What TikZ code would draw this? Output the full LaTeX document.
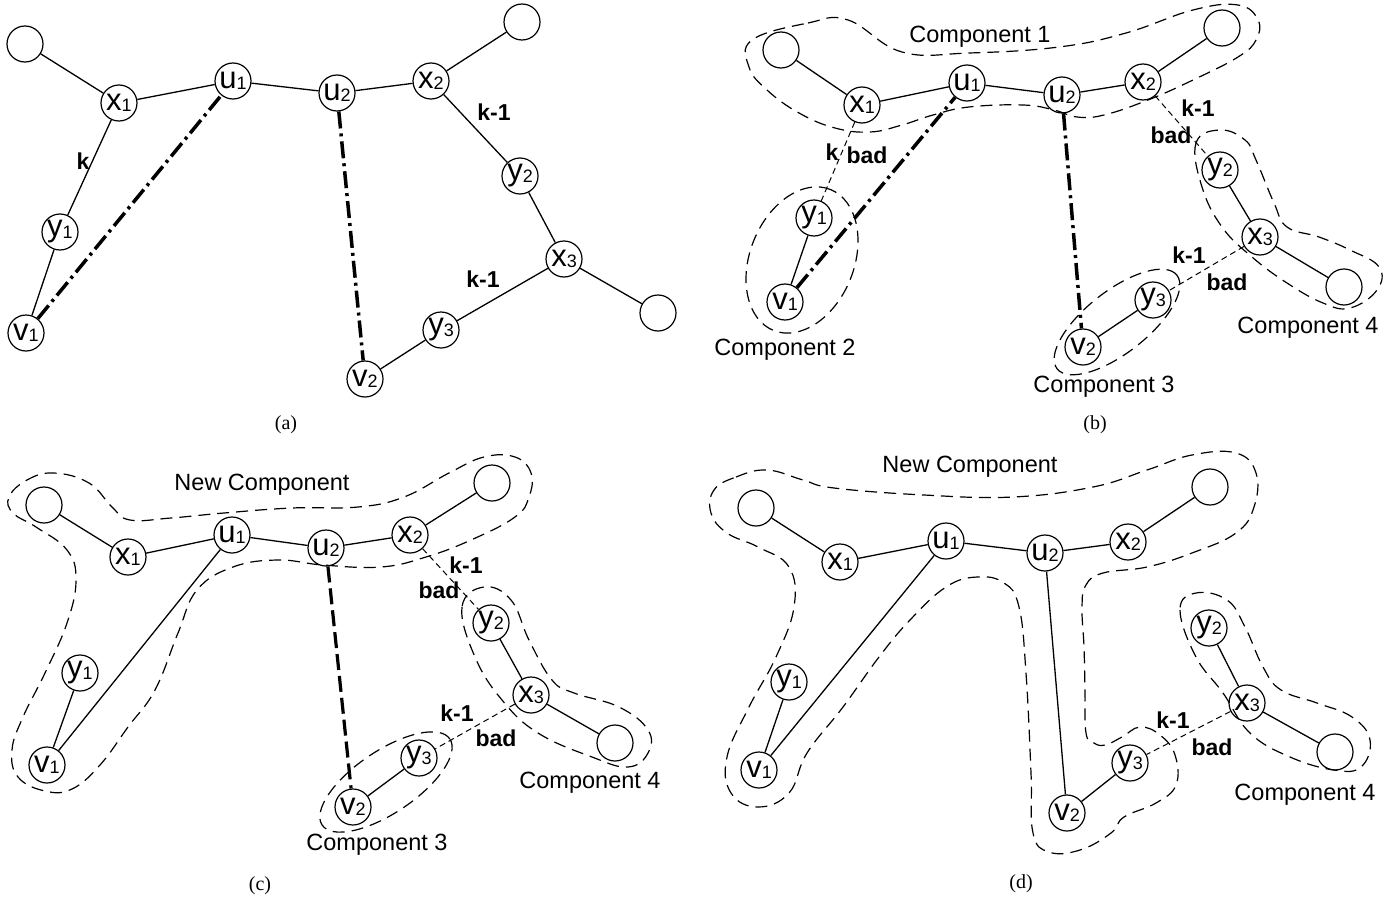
\documentclass[tikz,border=0pt]{standalone}
\usepackage{fontspec}
\setmainfont{Liberation Sans}
\newfontfamily\capfont{Liberation Serif}
\newcommand{\vlab}[2]{{\fontsize{31}{31}\selectfont #1}\raisebox{-1.5pt}{\fontsize{18}{18}\selectfont #2}}
\tikzset{
  vtx/.style={circle, draw, line width=1.2pt, minimum size=36pt, inner sep=0pt},
  edgeline/.style={line width=1.3pt},
  badline/.style={line width=1pt, dash pattern=on 6pt off 4pt},
  dashdotline/.style={line width=3.5pt, dash pattern=on 17pt off 5pt on 3pt off 5pt},
  thickdash/.style={line width=3.2pt, dash pattern=on 16pt off 6pt},
  blob/.style={line width=1.2pt, dash pattern=on 12pt off 7pt},
  lbl/.style={font=\fontsize{23}{23}\selectfont\bfseries, inner sep=0pt},
  comp/.style={font=\fontsize{23.5}{23.5}\selectfont, inner sep=0pt},
  captext/.style={font=\capfont\fontsize{20}{20}\selectfont, inner sep=0pt}
}
\begin{document}
\begin{tikzpicture}[x=1pt, y=-1pt]
\useasboundingbox (0,0) rectangle (1397,899);

% ---------------- panel (a) ----------------
\node[vtx] (a-e1) at (25,44) {};
\node[vtx] (a-x1) at (119,103) {\vlab{x}{1}};
\node[vtx] (a-u1) at (233,81) {\vlab{u}{1}};
\node[vtx] (a-u2) at (337,93) {\vlab{u}{2}};
\node[vtx] (a-x2) at (431,81) {\vlab{x}{2}};
\node[vtx] (a-e2) at (522,22) {};
\node[vtx] (a-y2) at (520,176) {\vlab{y}{2}};
\node[vtx] (a-x3) at (564,259) {\vlab{x}{3}};
\node[vtx] (a-e3) at (658,313) {};
\node[vtx] (a-y3) at (441,330) {\vlab{y}{3}};
\node[vtx] (a-v2) at (365,379) {\vlab{v}{2}};
\node[vtx] (a-y1) at (60,232) {\vlab{y}{1}};
\node[vtx] (a-v1) at (26,333) {\vlab{v}{1}};
\draw[edgeline] (a-e1) -- (a-x1);
\draw[edgeline] (a-x1) -- (a-u1);
\draw[edgeline] (a-u1) -- (a-u2);
\draw[edgeline] (a-u2) -- (a-x2);
\draw[edgeline] (a-x2) -- (a-e2);
\draw[edgeline] (a-x2) -- (a-y2);
\draw[edgeline] (a-y2) -- (a-x3);
\draw[edgeline] (a-x3) -- (a-e3);
\draw[edgeline] (a-x3) -- (a-y3);
\draw[edgeline] (a-y3) -- (a-v2);
\draw[edgeline] (a-x1) -- (a-y1);
\draw[edgeline] (a-y1) -- (a-v1);
\draw[dashdotline] (a-v1) -- (a-u1);
\draw[dashdotline] (a-u2) -- (a-v2);
\node[lbl] (a-lk) at (83,161) {k};
\node[lbl] (a-lk1) at (494,112) {k-1};
\node[lbl] (a-lk2) at (483,279) {k-1};
\node[captext] (a-cap) at (286,425) {(a)};

% ---------------- panel (b) ----------------
\draw[blob] plot[smooth cycle, tension=0.7] coordinates {
 (752,40) (808,23) (848,20) (902,52) (969,53) (1059,47) (1126,33) (1193,10)
 (1238,5) (1258,20) (1256,40) (1238,57) (1193,80) (1148,100) (1104,115)
 (1077,117) (1054,110) (1023,105) (969,107) (933,115) (902,125) (870,132)
 (835,128) (799,113) (767,90) (749,67)};
\draw[blob, rotate around={68:(802,260)}] (802,260) ellipse [x radius=76pt, y radius=52pt];
\draw[blob, rotate around={38:(1117,322)}] (1117,322) ellipse [x radius=76pt, y radius=31pt];
\draw[blob] plot[smooth cycle, tension=0.7] coordinates {
 (1220,130) (1196,143) (1202,187) (1222,227) (1252,257) (1287,283) (1323,303)
 (1350,308) (1377,290) (1379,267) (1350,250) (1319,237) (1287,227) (1274,203)
 (1256,160) (1245,140)};
\node[vtx] (b-e1) at (781,50) {};
\node[vtx] (b-x1) at (862,105) {\vlab{x}{1}};
\node[vtx] (b-u1) at (967,83) {\vlab{u}{1}};
\node[vtx] (b-u2) at (1062,95) {\vlab{u}{2}};
\node[vtx] (b-x2) at (1143,82) {\vlab{x}{2}};
\node[vtx] (b-e2) at (1222,28) {};
\node[vtx] (b-y1) at (814,218) {\vlab{y}{1}};
\node[vtx] (b-v1) at (785,302) {\vlab{v}{1}};
\node[vtx] (b-y2) at (1220,170) {\vlab{y}{2}};
\node[vtx] (b-x3) at (1260,237) {\vlab{x}{3}};
\node[vtx] (b-e3) at (1344,287) {};
\node[vtx] (b-y3) at (1153,300) {\vlab{y}{3}};
\node[vtx] (b-v2) at (1083,347) {\vlab{v}{2}};
\draw[edgeline] (b-e1) -- (b-x1);
\draw[edgeline] (b-x1) -- (b-u1);
\draw[edgeline] (b-u1) -- (b-u2);
\draw[edgeline] (b-u2) -- (b-x2);
\draw[edgeline] (b-x2) -- (b-e2);
\draw[edgeline] (b-y1) -- (b-v1);
\draw[edgeline] (b-y2) -- (b-x3);
\draw[edgeline] (b-x3) -- (b-e3);
\draw[edgeline] (b-y3) -- (b-v2);
\draw[badline] (b-x1) -- (b-y1);
\draw[badline] (b-x2) -- (b-y2);
\draw[badline] (b-x3) -- (b-y3);
\draw[dashdotline] (b-v1) -- (b-u1);
\draw[dashdotline] (b-u2) -- (b-v2);
\node[comp] (b-c1) at (980,37) {Component 1};
\node[lbl] (b-l1) at (832,152) {k};
\node[lbl] (b-l2) at (867,155) {bad};
\node[lbl] (b-l3) at (1198,108) {k-1};
\node[lbl] (b-l4) at (1171,135) {bad};
\node[lbl] (b-l5) at (1189,255) {k-1};
\node[lbl] (b-l6) at (1227,282) {bad};
\node[comp] (b-c2) at (785,350) {Component 2};
\node[comp] (b-c3) at (1104,387) {Component 3};
\node[comp] (b-c4) at (1308,328) {Component 4};
\node[captext] (b-cap) at (1095,425) {(b)};

% ---------------- panel (c) ----------------
\draw[blob] plot[smooth cycle, tension=0.7] coordinates {
 (9,497) (27,480) (54,473) (89,483) (112,507) (130,520) (171,518) (224,513)
 (292,508) (358,507) (404,497) (449,473) (484,457) (515,457) (531,473) (529,497)
 (515,517) (471,540) (426,557) (381,567) (323,565) (278,560) (233,567) (197,590)
 (178,633) (155,690) (128,727) (100,765) (72,789) (45,791) (18,777) (12,750)
 (23,717) (45,673) (67,623) (76,580) (67,550) (36,527) (13,513)};
\draw[blob, rotate around={34:(386,782)}] (386,782) ellipse [x radius=77pt, y radius=31pt];
\draw[blob] plot[smooth cycle, tension=0.7] coordinates {
 (484,587) (462,607) (475,657) (502,700) (538,733) (592,757) (628,767) (648,753)
 (648,730) (619,707) (574,693) (552,680) (529,640) (511,600)};
\node[vtx] (c-e1) at (44,505) {};
\node[vtx] (c-x1) at (128,557) {\vlab{x}{1}};
\node[vtx] (c-u1) at (232,535) {\vlab{u}{1}};
\node[vtx] (c-u2) at (326,548) {\vlab{u}{2}};
\node[vtx] (c-x2) at (410,535) {\vlab{x}{2}};
\node[vtx] (c-e2) at (492,483) {};
\node[vtx] (c-y1) at (80,673) {\vlab{y}{1}};
\node[vtx] (c-v1) at (47,765) {\vlab{v}{1}};
\node[vtx] (c-y2) at (491,623) {\vlab{y}{2}};
\node[vtx] (c-x3) at (531,695) {\vlab{x}{3}};
\node[vtx] (c-e3) at (615,743) {};
\node[vtx] (c-y3) at (419,758) {\vlab{y}{3}};
\node[vtx] (c-v2) at (353,807) {\vlab{v}{2}};
\draw[edgeline] (c-e1) -- (c-x1);
\draw[edgeline] (c-x1) -- (c-u1);
\draw[edgeline] (c-u1) -- (c-u2);
\draw[edgeline] (c-u2) -- (c-x2);
\draw[edgeline] (c-x2) -- (c-e2);
\draw[edgeline] (c-y1) -- (c-v1);
\draw[edgeline] (c-u1) -- (c-v1);
\draw[edgeline] (c-y2) -- (c-x3);
\draw[edgeline] (c-x3) -- (c-e3);
\draw[edgeline] (c-y3) -- (c-v2);
\draw[badline] (c-x2) -- (c-y2);
\draw[badline] (c-x3) -- (c-y3);
\draw[thickdash] (c-u2) -- (c-v2);
\node[comp] (c-nc) at (262,485) {New Component};
\node[lbl] (c-l1) at (466,565) {k-1};
\node[lbl] (c-l2) at (439,590) {bad};
\node[lbl] (c-l3) at (457,713) {k-1};
\node[lbl] (c-l4) at (496,738) {bad};
\node[comp] (c-c4) at (590,783) {Component 4};
\node[comp] (c-c3) at (377,845) {Component 3};
\node[captext] (c-cap) at (260,886) {(c)};

% ---------------- panel (d) ----------------
\draw[blob] plot[smooth cycle, tension=0.7] coordinates {
 (714,490) (736,477) (767,470) (803,480) (834,488) (924,495) (1013,497) (1093,487)
 (1147,470) (1192,455) (1236,453) (1256,473) (1254,507) (1236,533) (1192,553)
 (1147,567) (1103,573) (1086,585) (1082,607) (1084,647) (1085,690) (1086,733)
 (1094,743) (1105,745) (1122,737) (1140,727) (1160,735) (1175,755) (1176,785)
 (1156,803) (1124,817) (1111,833) (1080,850) (1049,852) (1033,833) (1031,773)
 (1026,673) (1019,607) (1004,583) (977,577) (946,587) (910,620) (879,657)
 (843,707) (807,753) (789,793) (758,807) (731,793) (727,757) (749,707)
 (776,657) (794,607) (789,567) (758,547) (727,533) (711,513)};
\draw[blob] plot[smooth cycle, tension=0.7] coordinates {
 (1196,593) (1180,610) (1196,657) (1223,693) (1250,733) (1290,757) (1334,770)
 (1361,767) (1370,740) (1352,717) (1317,703) (1281,690) (1263,667) (1245,627)
 (1227,600)};
\node[vtx] (d-e1) at (756,508) {};
\node[vtx] (d-x1) at (840,562) {\vlab{x}{1}};
\node[vtx] (d-u1) at (946,541) {\vlab{u}{1}};
\node[vtx] (d-u2) at (1045,553) {\vlab{u}{2}};
\node[vtx] (d-x2) at (1128,542) {\vlab{x}{2}};
\node[vtx] (d-e2) at (1210,487) {};
\node[vtx] (d-y1) at (789,682) {\vlab{y}{1}};
\node[vtx] (d-v1) at (759,770) {\vlab{v}{1}};
\node[vtx] (d-y2) at (1209,628) {\vlab{y}{2}};
\node[vtx] (d-x3) at (1247,703) {\vlab{x}{3}};
\node[vtx] (d-e3) at (1335,752) {};
\node[vtx] (d-y3) at (1130,763) {\vlab{y}{3}};
\node[vtx] (d-v2) at (1067,813) {\vlab{v}{2}};
\draw[edgeline] (d-e1) -- (d-x1);
\draw[edgeline] (d-x1) -- (d-u1);
\draw[edgeline] (d-u1) -- (d-u2);
\draw[edgeline] (d-u2) -- (d-x2);
\draw[edgeline] (d-x2) -- (d-e2);
\draw[edgeline] (d-y1) -- (d-v1);
\draw[edgeline] (d-u1) -- (d-v1);
\draw[edgeline] (d-u2) -- (d-v2);
\draw[edgeline] (d-y3) -- (d-v2);
\draw[edgeline] (d-y2) -- (d-x3);
\draw[edgeline] (d-x3) -- (d-e3);
\draw[badline] (d-x3) -- (d-y3);
\node[comp] (d-nc) at (970,467) {New Component};
\node[lbl] (d-l1) at (1173,720) {k-1};
\node[lbl] (d-l2) at (1212,747) {bad};
\node[comp] (d-c4) at (1305,795) {Component 4};
\node[captext] (d-cap) at (1021,884) {(d)};
\end{tikzpicture}
\end{document}
